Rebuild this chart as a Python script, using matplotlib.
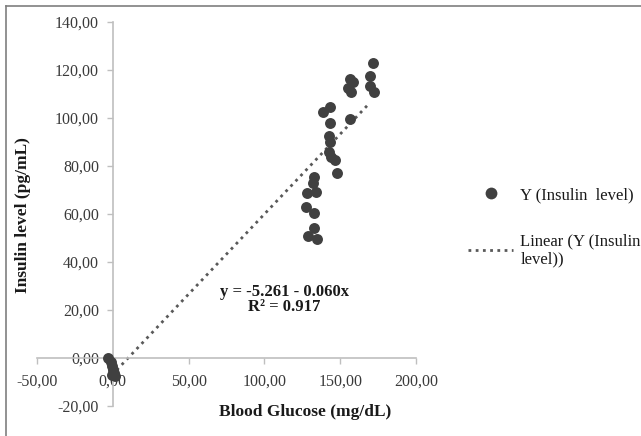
"""Scatter of insulin level against blood glucose with a linear trend."""

import matplotlib.pyplot as plt
from matplotlib.lines import Line2D

# Blood glucose (mg/dL) and insulin level (pg/mL)
glucose = [
    -3.3, -1.3, -0.7, 0.0, 0.7, 1.3, -0.7,
    127.2, 128.5, 127.8, 131.8, 132.5, 132.5, 132.5, 133.8, 134.4,
    138.4, 142.4, 142.4, 143.0, 143.0, 143.0, 143.7, 146.4, 147.7,
    155.0, 156.3, 156.3, 157.0, 158.3,
    169.5, 169.5, 171.5, 172.2,
]
insulin = [
    0.0, -1.7, -3.3, -5.0, -6.3, -7.5, -7.1,
    62.9, 50.8, 68.8, 72.9, 75.4, 60.4, 54.2, 69.2, 49.6,
    102.5, 92.5, 85.8, 104.6, 97.9, 90.0, 83.8, 82.5, 77.1,
    112.5, 116.3, 99.6, 110.8, 115.0,
    117.5, 113.3, 122.9, 110.8,
]

# Linear trendline end points as drawn
trend_x = [2.6, 169.5]
trend_y = [-5.0, 106.3]

x_ticks = [-50, 0, 50, 100, 150, 200]
y_ticks = [-20, 0, 20, 40, 60, 80, 100, 120, 140]

equation = "y = -5.261 - 0.060x\nR\u00b2 = 0.917"
legend_labels = ["Y (Insulin  level)", "Linear (Y (Insulin\nlevel))"]

SERIF = ["Liberation Serif", "DejaVu Serif"]
POINT_COLOR = "#404040"
TREND_COLOR = "#595959"
AXIS_COLOR = "#bfbfbf"
TEXT_COLOR = "#1a1a1a"
DOTTED = (0, (1, 1.6))


def comma(value):
    return f"{value:.2f}".replace(".", ",")


def main():
    plt.rcParams["font.family"] = SERIF
    fig = plt.figure(figsize=(6.41, 4.36), dpi=100)
    ax = fig.add_axes([37 / 641, 30 / 436, 379 / 641, 384 / 436])

    ax.scatter(glucose, insulin, s=62, color=POINT_COLOR, linewidths=0, zorder=3)
    ax.plot(trend_x, trend_y, linestyle=DOTTED, linewidth=2.0,
            color=TREND_COLOR, zorder=2)

    ax.set_xlim(-50, 200)
    ax.set_ylim(-20, 140)
    ax.set_xticks(x_ticks, [comma(v) for v in x_ticks])
    ax.set_yticks(y_ticks, [comma(v) for v in y_ticks])

    for side in ("top", "right"):
        ax.spines[side].set_visible(False)
    ax.spines["left"].set_position(("data", 0))
    ax.spines["bottom"].set_position(("data", 0))
    for side in ("left", "bottom"):
        ax.spines[side].set_color(AXIS_COLOR)
        ax.spines[side].set_linewidth(1.2)
    ax.tick_params(axis="both", colors=AXIS_COLOR, length=4, width=1.0,
                   labelcolor="#3a3a3a", labelsize=11.5)
    ax.tick_params(axis="y", pad=6)
    ax.tick_params(axis="x", pad=7)
    ax.patch.set_visible(False)

    fig.text(23 / 641, 1 - 215 / 436, "Insulin level (pg/mL)", rotation=90,
             ha="center", va="center", fontsize=12.5, fontweight="bold",
             color=TEXT_COLOR)
    fig.text(305 / 641, 1 - 412 / 436, "Blood Glucose (mg/dL)", ha="center",
             va="center", fontsize=12.5, fontweight="bold", color=TEXT_COLOR)
    ax.text(113, 24.5, equation, ha="center", va="center", fontsize=12,
            fontweight="bold", color=TEXT_COLOR, linespacing=0.95)

    handles = [
        Line2D([], [], linestyle="none", marker="o", markersize=8.5,
               color=POINT_COLOR, markeredgewidth=0),
        Line2D([], [], linestyle=DOTTED, linewidth=2.0, color=TREND_COLOR),
    ]
    fig.legend(handles, legend_labels, loc="upper left",
               bbox_to_anchor=(468 / 641, 1 - 187 / 436), borderpad=0,
               borderaxespad=0, frameon=False, fontsize=12, handlelength=2.7,
               handletextpad=0.45, labelspacing=1.8, labelcolor=TEXT_COLOR)

    # Chart border visible on the top and left edges
    fig.add_artist(Line2D([6 / 641, 1], [1 - 6 / 436, 1 - 6 / 436],
                          color="#7f7f7f", linewidth=1.2))
    fig.add_artist(Line2D([6 / 641, 6 / 641], [0, 1 - 6 / 436],
                          color="#7f7f7f", linewidth=1.2))

    fig.savefig("out.png", dpi=100)


if __name__ == "__main__":
    main()
